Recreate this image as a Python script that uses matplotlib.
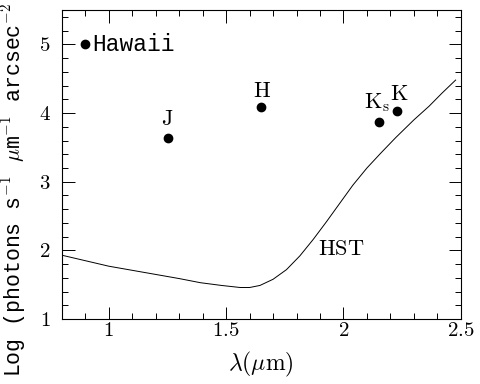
import numpy as np
import matplotlib.pyplot as plt
from matplotlib.ticker import MultipleLocator

plt.rcParams['font.family'] = 'Liberation Serif'
plt.rcParams['mathtext.fontset'] = 'cm'

# ground-based sky background (Hawaii) per band
bands = ['$\\mathrm{J}$', '$\\mathrm{H}$', '$\\mathrm{K_s}$', '$\\mathrm{K}$']
band_wl = [1.25, 1.65, 2.15, 2.23]
band_bg = [3.64, 4.09, 3.87, 4.03]

# HST background curve
hst_wl = [0.8, 0.9, 1.0, 1.1, 1.2, 1.3, 1.39, 1.48, 1.56, 1.60, 1.644, 1.70,
          1.757, 1.814, 1.871, 1.928, 1.985, 2.04, 2.10, 2.16, 2.222, 2.30,
          2.365, 2.42, 2.478]
hst_bg = [1.93, 1.85, 1.77, 1.71, 1.65, 1.59, 1.53, 1.49, 1.46, 1.46, 1.49, 1.58,
          1.72, 1.92, 2.16, 2.42, 2.69, 2.95, 3.20, 3.42, 3.64, 3.90,
          4.10, 4.29, 4.48]

fig = plt.figure(figsize=(4.8, 3.84), dpi=100)
ax = fig.add_axes([0.129, 0.169, 0.831, 0.805])

ax.plot(hst_wl, hst_bg, color='black', linewidth=0.7)
ax.plot(band_wl, band_bg, 'o', color='black', markersize=6)
ax.plot([0.9], [5.0], 'o', color='black', markersize=6)

label_off = [(0, 13), (1, 10), (-2, 14), (2, 11)]  # pixels
for b, x, y, off in zip(bands, band_wl, band_bg, label_off):
    ax.annotate(b, xy=(x, y), xytext=off, textcoords='offset pixels',
                ha='center', va='baseline', fontsize=16)
ax.annotate('Hawaii', xy=(0.9, 5.0), xytext=(7, 0), textcoords='offset pixels',
            ha='left', va='center', fontsize=16.5, family='Liberation Mono')
ax.text(1.989, 2.0, '$\\mathrm{HST}$', ha='center', va='center', fontsize=16)

ax.set_xlim(0.8, 2.5)
ax.set_ylim(1, 5.5)
ax.xaxis.set_minor_locator(MultipleLocator(0.1))
ax.yaxis.set_major_locator(MultipleLocator(1))
ax.yaxis.set_minor_locator(MultipleLocator(0.2))
ax.set_xticks([1, 1.5, 2, 2.5])
ax.set_xticklabels(['$1$', '$1.5$', '$2$', '$2.5$'])
ax.set_yticks([1, 2, 3, 4, 5])
ax.set_yticklabels(['$1$', '$2$', '$3$', '$4$', '$5$'])
ax.tick_params(which='both', direction='in', top=True, right=True, labelsize=15, width=0.7)
ax.tick_params(which='major', length=9)
ax.tick_params(which='minor', length=4.5)
ax.tick_params(axis='x', pad=2)
ax.tick_params(axis='y', pad=8)
for s in ax.spines.values():
    s.set_linewidth(0.8)

fig.text(261 / 480, 0.05, '$\\lambda(\\mu\\mathrm{m})$', ha='center', va='center', fontsize=17)
fig.text(0.028, 0.505, 'Log (photons s$^{-1}$ $\\mu$m$^{-1}$ arcsec$^{-2}$',
         rotation=90, ha='center', va='center', fontsize=15.5, family='Liberation Mono')

fig.savefig('out.png', dpi=100)
